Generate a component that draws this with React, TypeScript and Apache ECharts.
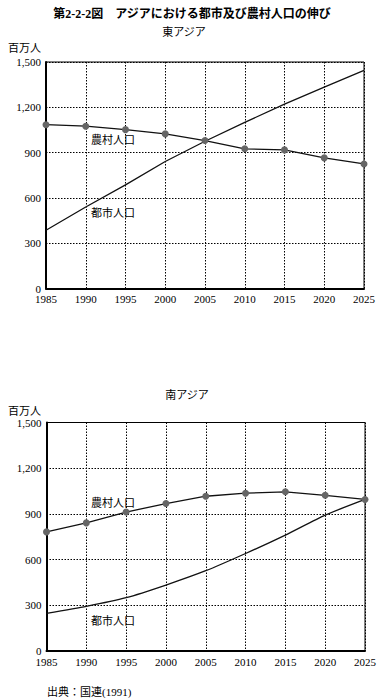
import React, { useEffect, useRef } from "react";
import * as echarts from "echarts";

const years = [1985, 1990, 1995, 2000, 2005, 2010, 2015, 2020, 2025];
const yTicks = [0, 300, 600, 900, 1200, 1500];
const eastRural = [1085, 1075, 1052, 1024, 980, 925, 918, 865, 825];
const eastUrban = [386, 540, 686, 841, 975, 1100, 1221, 1334, 1444];
const southRural = [782, 841, 912, 968, 1016, 1036, 1045, 1022, 995];
const southUrban = [247, 293, 350, 433, 527, 640, 761, 892, 995];

const mainTitle = "第2-2-2図　アジアにおける都市及び農村人口の伸び";
const eastTitle = "東アジア";
const southTitle = "南アジア";
const unitLabel = "百万人";
const ruralLabel = "農村人口";
const urbanLabel = "都市人口";
const sourceLabel = "出典：国連(1991)";

const FONT = "'Liberation Serif', 'DejaVu Serif', 'Noto Sans CJK JP', serif";

const pairs = (vals: number[]) => years.map((y, i) => [y, vals[i]]);

export default function App() {
  const ref = useRef<HTMLDivElement>(null);
  useEffect(() => {
    if (!ref.current) return;
    const chart = echarts.init(ref.current, null, { renderer: "svg" });
    const grids = [
      { left: 46, right: 21, top: 62, height: 226.5 },
      { left: 46.5, right: 20, top: 422.5, height: 228.5 },
    ];
    const xAxis = grids.map((_, i) => ({
      type: "value",
      gridIndex: i,
      min: years[0],
      max: years[years.length - 1],
      interval: 5,
      axisLine: { show: true, lineStyle: { color: "#000", width: 2 } },
      axisTick: { show: false },
      axisLabel: {
        color: "#000",
        fontSize: 11,
        fontFamily: FONT,
        margin: 5,
        formatter: (v: number) => String(v),
      },
      splitLine: { show: true, lineStyle: { color: "#000", type: [1.5, 1.5], width: 1 } },
    }));
    const yAxis = grids.map((_, i) => ({
      type: "value",
      gridIndex: i,
      min: yTicks[0],
      max: yTicks[yTicks.length - 1],
      interval: 300,
      axisLine: { show: true, lineStyle: { color: "#000", width: 2 } },
      axisTick: { show: false },
      axisLabel: {
        color: "#000",
        fontSize: 11,
        fontFamily: FONT,
        margin: 5,
        formatter: (v: number) => v.toLocaleString("en-US"),
      },
      splitLine: { show: true, lineStyle: { color: "#000", type: [1.5, 1.5], width: 1 } },
    }));
    const ruralSeries = (data: number[], idx: number) => ({
      type: "line",
      xAxisIndex: idx,
      yAxisIndex: idx,
      data: pairs(data),
      symbol: "circle",
      symbolSize: 7,
      itemStyle: { color: "#666" },
      lineStyle: { color: "#111", width: 1.3 },
      z: 3,
    });
    const urbanSeries = (data: number[], idx: number, smooth: number) => ({
      type: "line",
      xAxisIndex: idx,
      yAxisIndex: idx,
      data: pairs(data),
      symbol: "none",
      smooth,
      lineStyle: { color: "#111", width: 1.3 },
      z: 2,
    });
    const txt = (text: string, x: number, y: number, size = 11, weight = "normal", align = "left") => ({
      type: "text",
      x,
      y,
      style: {
        text,
        fill: "#000",
        fontSize: size,
        fontWeight: weight,
        fontFamily: FONT,
        textAlign: align,
        textVerticalAlign: "middle",
      },
    });
    chart.setOption({
      animation: false,
      backgroundColor: "#fff",
      grid: grids.map((g) => ({ ...g, show: true, borderColor: "#000", borderWidth: 1, backgroundColor: "transparent" })),
      xAxis,
      yAxis,
      series: [
        ruralSeries(eastRural, 0),
        urbanSeries(eastUrban, 0, 0),
        ruralSeries(southRural, 1),
        urbanSeries(southUrban, 1, 0.2),
      ],
      graphic: [
        txt(mainTitle, 192, 14, 12, "bold", "center"),
        txt(eastTitle, 184, 32, 11, "normal", "center"),
        txt(unitLabel, 8, 48, 11),
        txt(ruralLabel, 91, 140, 11),
        txt(urbanLabel, 91, 213, 11),
        txt(southTitle, 187, 395, 11, "normal", "center"),
        txt(unitLabel, 8, 411, 11),
        txt(ruralLabel, 91, 503, 11),
        txt(urbanLabel, 91, 621, 11),
        txt(sourceLabel, 47, 692, 11),
      ],
    });
    return () => chart.dispose();
  }, []);
  return (
    <div
      ref={ref}
      style={{ position: "fixed", left: 0, top: 0, width: 385, height: 698, background: "#fff" }}
    />
  );
}
